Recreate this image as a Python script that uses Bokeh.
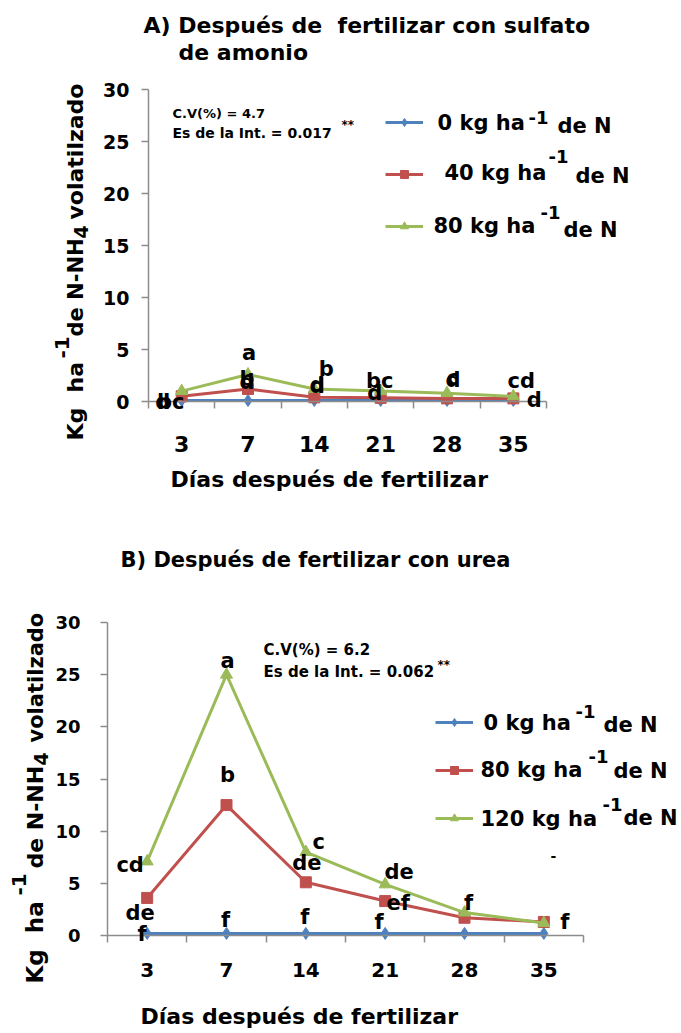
import math
from bokeh.plotting import figure
from bokeh.models import (Range1d, FixedTicker, Label, LabelSet, ColumnDataSource,
                          Legend, LegendItem, LinearAxis)
from bokeh.embed import file_html
from bokeh.resources import INLINE
from bokeh.core.properties import value

# ---------------- data ----------------
days = [3, 7, 14, 21, 28, 35]
y_ticks = [0, 5, 10, 15, 20, 25, 30]

# A) sulfato de amonio
a_0 = [0.1, 0.1, 0.1, 0.1, 0.1, 0.1]
a_40 = [0.5, 1.2, 0.4, 0.35, 0.3, 0.3]
a_80 = [1.0, 2.6, 1.2, 1.0, 0.8, 0.5]
a_0_letters = ["d", "d", "d", "", "", "d"]
a_40_letters = ["bc", "b", "d", "d", "d", ""]
a_80_letters = ["", "a", "b", "bc", "c", "cd"]
a_names = ["0 kg ha", "40 kg ha", "80 kg ha"]
a_cv = "C.V(%) = 4.7"
a_es = "Es de la Int. = 0.017"

# B) urea
b_0 = [0.2, 0.2, 0.2, 0.2, 0.2, 0.2]
b_80 = [3.6, 12.5, 5.1, 3.3, 1.7, 1.3]
b_120 = [7.1, 25.0, 8.0, 4.9, 2.2, 1.2]
b_0_letters = ["f", "f", "f", "f", "", "f"]
b_80_letters = ["de", "b", "de", "ef", "", ""]
b_120_letters = ["cd", "a", "c", "de", "f", ""]
b_names = ["0 kg ha", "80 kg ha", "120 kg ha"]
b_cv = "C.V(%) = 6.2"
b_es = "Es de la Int. = 0.062"

# ---------------- styling / layout ----------------
W, H = 681, 1033
FONT = "DejaVu Sans"
COLORS = ["#4F81BD", "#C0504D", "#9BBB59"]
MARKERS = ["diamond", "square", "triangle"]
MSIZES = [12, 11, 12]
AXIS_GRAY = "#8C8C8C"
NB = "\u00a0"

# label offsets (dx, dy) in px, dy measured downward from the point
a_offsets = [
    [(-19, 2), (-1, -18), (3, -14), None, None, (21, 0)],
    [(-11, 6), (-1, -10), (3, -12), (-6, -5), (6, -18), None],
    [None, (1, -21), (12, -20), (-1, -10), (6, -15), (8, -15)],
]
b_offsets = [
    [(-5, 1), (-1, -13), (-1, -16), (-6, -11), None, (21, -11)],
    [(-7, 15), (1, -30), (1, -19), (13, 2), None, None],
    [(-17, 4), (1, -14), (13, -10), (14, -12), (4, -10), None],
]

# plot-area geometry of each chart, in page pixels
GA = dict(name="A", left=148, right=546, y30=89, y0=401,
          xtick=22, ytick=19, xstand=27, ystand=12)
GB = dict(name="B", left=107, right=583, y30=622, y0=935,
          xtick=20, ytick=18, xstand=20, ystand=20)

# one canvas-wide frame whose default ranges are page pixels
p = figure(width=W, height=H, x_range=Range1d(0, W), y_range=Range1d(H, 0),
           x_axis_type=None, y_axis_type=None, min_border=0,
           toolbar_location=None, output_backend="svg",
           outline_line_color=None, background_fill_color="white",
           border_fill_color="white")

n = len(days)
xr, yr = {}, {}
for g in (GA, GB):
    ppx = (g["right"] - g["left"]) / n
    ppy = (g["y0"] - g["y30"]) / 30.0
    xr[g["name"]] = Range1d(0.5 - g["left"] / ppx, 0.5 + (W - g["left"]) / ppx)
    yr[g["name"]] = Range1d(-(H - g["y0"]) / ppy, 30 + g["y30"] / ppy)
p.extra_x_ranges = xr
p.extra_y_ranges = yr


def add_axes(g):
    nm = g["name"]
    xa = LinearAxis(x_range_name=nm, y_range_name=nm, fixed_location=0,
                    bounds=(0.5, n + 0.5),
                    ticker=FixedTicker(ticks=list(range(1, n + 1)),
                                       minor_ticks=[i + 0.5 for i in range(n + 1)]))
    xa.major_label_overrides = {i + 1: str(d) for i, d in enumerate(days)}
    xa.major_tick_line_color = None
    xa.major_tick_out = 0
    xa.major_tick_in = 0
    xa.minor_tick_out = 7
    xa.minor_tick_in = 0
    xa.minor_tick_line_color = AXIS_GRAY
    xa.minor_tick_line_width = 1.5
    xa.axis_line_color = AXIS_GRAY
    xa.axis_line_width = 1.5
    xa.major_label_text_font = FONT
    xa.major_label_text_font_style = "bold"
    xa.major_label_text_font_size = f"{g['xtick']}px"
    xa.major_label_text_color = "black"
    xa.major_label_standoff = g["xstand"]
    p.add_layout(xa, "below")

    ya = LinearAxis(x_range_name=nm, y_range_name=nm, fixed_location=0.5,
                    bounds=(0, 30), ticker=FixedTicker(ticks=y_ticks))
    ya.major_tick_out = 7
    ya.major_tick_in = 0
    ya.minor_tick_line_color = None
    ya.major_tick_line_color = AXIS_GRAY
    ya.major_tick_line_width = 1.5
    ya.axis_line_color = AXIS_GRAY
    ya.axis_line_width = 1.5
    ya.major_label_text_font = FONT
    ya.major_label_text_font_style = "bold"
    ya.major_label_text_font_size = f"{g['ytick']}px"
    ya.major_label_text_color = "black"
    ya.major_label_standoff = g["ystand"]
    p.add_layout(ya, "left")


def put(text, px, py, size, angle=0.0):
    # px, py: page pixel position of the text's baseline start
    # (default ranges are the page); text is centred on its middle line
    shift = 0.35 * size
    if angle:
        px = px - shift
    else:
        py = py - shift
    p.add_layout(Label(x=px, y=py, text=text,
                       text_font=FONT, text_font_size=f"{size}px",
                       text_font_style="bold", text_color="black",
                       text_align="left", text_baseline="middle", angle=angle))


def draw_series(g, series, letters, offsets):
    nm = g["name"]
    xs = list(range(1, n + 1))
    rends = []
    for k, vals in enumerate(series):
        src = ColumnDataSource(dict(x=xs, y=vals))
        lr = p.line("x", "y", source=src, line_color=COLORS[k], line_width=3,
                    x_range_name=nm, y_range_name=nm)
        sr = p.scatter("x", "y", source=src, marker=MARKERS[k], size=MSIZES[k],
                       fill_color=COLORS[k], line_color=COLORS[k],
                       x_range_name=nm, y_range_name=nm)
        rends.append([lr, sr])
    lx, ly, lt, lxo, lyo = [], [], [], [], []
    for k, vals in enumerate(series):
        for i, t in enumerate(letters[k]):
            if t == "":
                continue
            dx, dy = offsets[k][i]
            lx.append(xs[i]); ly.append(vals[i]); lt.append(t)
            lxo.append(dx); lyo.append(-dy)
    lsrc = ColumnDataSource(dict(x=lx, y=ly, text=lt, xo=lxo, yo=lyo))
    p.add_layout(LabelSet(x="x", y="y", text="text", x_offset="xo", y_offset="yo",
                          source=lsrc, x_range_name=nm, y_range_name=nm,
                          text_align="center", text_baseline="middle",
                          text_font=value(FONT), text_font_size=value("21px"),
                          text_font_style="bold", text_color="black"))
    return rends


def add_legend(rends, left_px, top_px, spacing):
    items = [LegendItem(label=" ", renderers=r) for r in rends]
    gh = 20
    h = 3 * gh + 2 * spacing
    leg = Legend(items=items, location=(int(left_px), int(H - (top_px + h))),
                 orientation="vertical", glyph_width=38, glyph_height=gh,
                 label_height=gh, label_width=1, label_standoff=0, spacing=int(spacing),
                 padding=0, margin=0, border_line_color=None, background_fill_alpha=0,
                 label_text_font_size="1px")
    p.add_layout(leg)


R = math.pi / 2

# ---------------- chart A ----------------
add_axes(GA)
rA = draw_series(GA, [a_0, a_40, a_80], [a_0_letters, a_40_letters, a_80_letters], a_offsets)
add_legend(rA, 385, 112, 32)

put("A) Después de" + NB + " fertilizar con sulfato", 143, 33, 22)
put("de amonio", 178, 60, 22)
put(a_cv, 172, 118, 13)
put(a_es, 172, 137, 14)
put("**", 341, 129, 12)

put(a_names[0], 437, 130, 21); put("-1", 528, 123, 18); put("de N", 557, 133, 21)
put(a_names[1], 444, 180, 21); put("-1", 548, 162, 18); put("de N", 575, 183, 21)
put(a_names[2], 433, 233, 21); put("-1", 540, 218, 18); put("de N", 563, 237, 21)

put("Kg" + NB + " ha", 83, 440, 22, angle=R)
put("-1", 68, 358, 20, angle=R)
put("de N-NH", 83, 336, 21, angle=R)
put("4", 87, 238, 19, angle=R)
put("volatilzado", 83, 219, 22, angle=R)

put("Días después de fertilizar", 170, 487, 22)

# ---------------- chart B ----------------
add_axes(GB)
rB = draw_series(GB, [b_0, b_80, b_120], [b_0_letters, b_80_letters, b_120_letters], b_offsets)
add_legend(rB, 435, 712, 28)

put("B) Después de fertilizar con urea", 120, 567, 21)
put(b_cv, 263, 655, 15)
put(b_es, 263, 677, 15)
put("**", 437, 669, 12)
put("-", 550, 860, 14)

put(b_names[0], 483, 730, 21); put("-1", 575, 717, 18); put("de N", 603, 732, 21)
put(b_names[1], 480, 777, 21); put("-1", 588, 762, 18); put("de N", 613, 778, 21)
put(b_names[2], 480, 826, 21); put("-1", 602, 810, 18); put("de N", 623, 825, 21)

put("Kg" + NB + " ha", 43, 983, 23, angle=R)
put("-1", 25, 895, 20, angle=R)
put("de N-NH", 43, 868, 22, angle=R)
put("4", 47, 765, 19, angle=R)
put("volatilzado", 43, 742, 21, angle=R)

put("Días después de fertilizar", 140, 1024, 22)

open("out.html", "w").write(file_html(p, INLINE))
